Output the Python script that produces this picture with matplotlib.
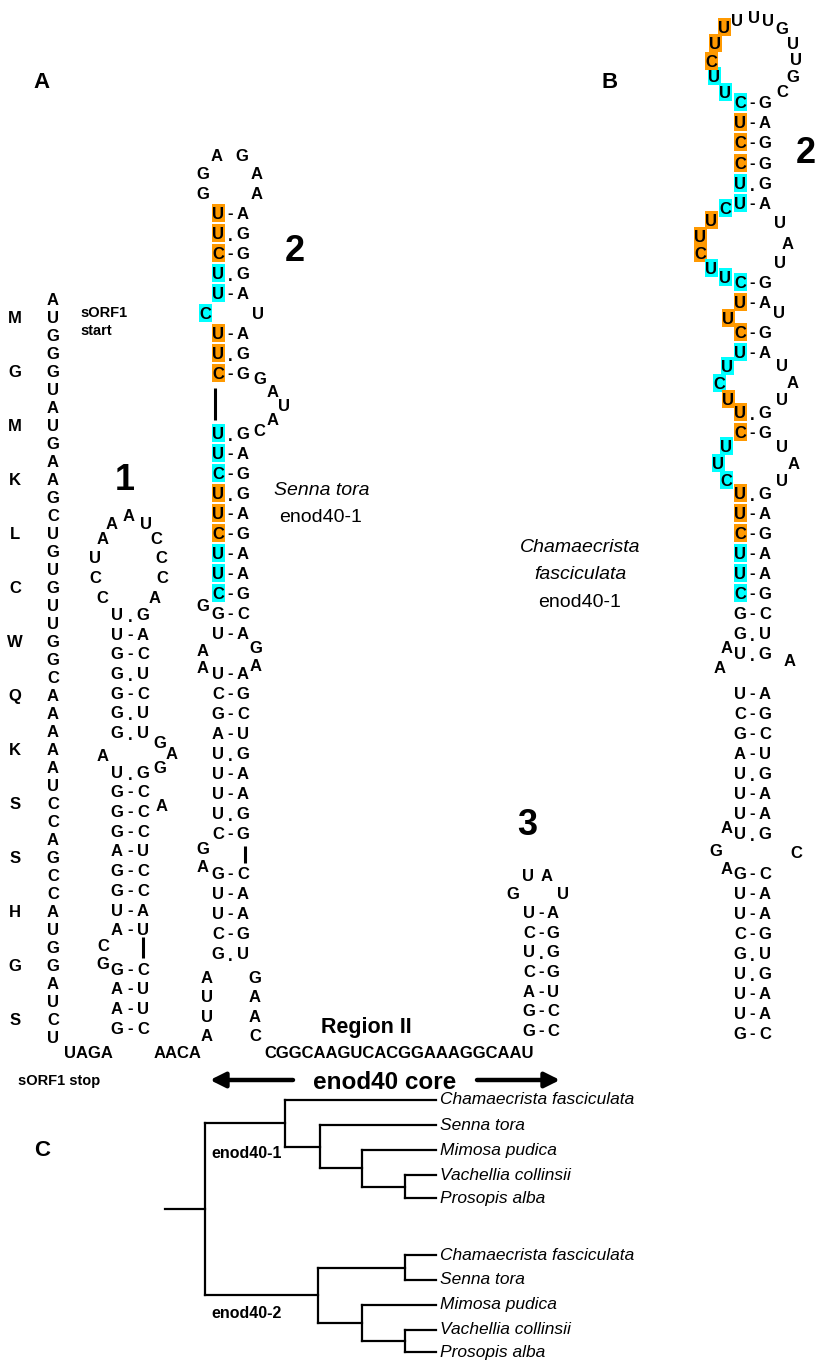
import matplotlib.pyplot as plt
from matplotlib.patches import Rectangle

plt.rcParams['font.family'] = ['Liberation Sans', 'DejaVu Sans']

ORANGE = '#FF9900'
CYAN = '#00FFFF'
FS = 12

# ---- secuencias (datos) ----
sorf_seq = "AUGGGUAUGAAGCUGUGUUGGCAAAAAUCCAGCCAUGGAUCU"
sorf_aa = "MGMKLCWQKSSHGS"
stop_seq = "UAGA"
linker_seq = "AACA"
region2_seq = "CGGCAAGUCACGGAAAGGCAAU"

# tallo 1
stem1_pairs = ["U.G", "U-A", "G-C", "G.U", "G-C", "G.U", "G.U", "",
               "U.G", "G-C", "G-C", "G-C", "A-U", "G-C", "G-C", "U-A", "A-U", "",
               "G-C", "A-U", "A-U", "G-C"]
stem1_loop = "CCUAAAUCCCA"
stem1_extra = "AGAGACG"

# tallo 2 (Senna tora)
stem2_pairs = ["U-A", "U.G", "C-G", "U.G", "U-A", "",
               "U-A", "U.G", "C-G", "", "",
               "U.G", "U-A", "C-G", "U.G", "U-A", "C-G", "U-A", "U-A", "C-G",
               "G-C", "U-A", "",
               "U-A", "C-G", "G-C", "A-U", "U.G", "U-A", "U-A", "U.G", "C-G", "",
               "G-C", "U-A", "U-A", "C-G", "G.U"]
stem2_hl = "ooocc " + "ooo  " + "cccooocccc"[:9] + "nn " + "nnnnnnnnn " + "nnnnn"
stem2_loop = "GGAGAA"
stem2_extra = "CU" + "GAUAC" + "G" + "AAGA" + "GA"
stem2_extra_hl = "cn" + "nnnnn" + "n" + "nnnn" + "nn"
stem2_left = "AUUA"
stem2_right = "GAAC"

# tallo 3
stem3_pairs = ["U-A", "C-G", "U.G", "C-G", "A-U", "G-C", "G-C"]
stem3_loop = "GUAU"

# tallo B (Chamaecrista fasciculata)
stemB_top = ["C-G", "U-A", "C-G", "C-G", "U.G", "U-A"]
stemB_top_hl = "cooocc"
stemB_loop = "UUCUUUUUGUUGC"
stemB_loop_hl = "ccooo" + "n" * 8
stemB_mid = ["C-G", "U-A", "C-G", "U-A", "U.G", "C-G"]
stemB_mid_hl = "coocoo"
stemB_mid_extra = "CUUCUU" + "UAU" + "U" + "U" + "UCU" + "UAU" + "UUC" + "UAU"
stemB_mid_extra_hl = "cooocc" + "nnn" + "o" + "n" + "cco" + "nnn" + "ccc" + "nnn"
stemB_low = ["U.G", "U-A", "C-G", "U-A", "U-A", "C-G", "G-C", "G.U", "U.G", "",
             "U-A", "C-G", "G-C", "A-U", "U.G", "U-A", "U-A", "U.G", "",
             "G-C", "U-A", "U-A", "C-G", "G.U", "U.G", "U-A", "U-A", "G-C"]
stemB_low_hl = "ooocccnnn " + "nnnnnnnn " + "nnnnnnnnn"
stemB_low_extra = "AAAAGCA"

# arbol
leaf_y = [1100, 1125, 1150, 1175, 1198, 1255, 1280, 1305, 1330, 1352]
tree1 = (285, 'Chamaecrista fasciculata',
         (320, 'Senna tora', (362, 'Mimosa pudica', (405, 'Vachellia collinsii', 'Prosopis alba'))))
tree2 = (318, (405, 'Chamaecrista fasciculata', 'Senna tora'),
         (362, 'Mimosa pudica', (405, 'Vachellia collinsii', 'Prosopis alba')))

# ---- figura ----
fig = plt.figure(figsize=(8.19, 13.62), dpi=100)
ax = fig.add_axes([0, 0, 1, 1])
ax.set_xlim(0, 819)
ax.set_ylim(1362, 0)
ax.axis('off')


def txt(x, y, s, fs=FS, weight='bold', style='normal', ha='center'):
    # y = centro de las mayusculas
    off = 0.36 * fs * 100 / 72
    ax.text(x, y + off, s, ha=ha, va='baseline', fontsize=fs,
            fontweight=weight, style=style, zorder=3)


def base(x, y, ch, hl='n'):
    if hl in ('o', 'c'):
        ax.add_patch(Rectangle((x - 6.5, y - 9), 13, 18, lw=0, zorder=1,
                               color=ORANGE if hl == 'o' else CYAN))
    txt(x, y, ch)


def stem(xl, xr, ys, pairs, hl=None):
    if hl is None:
        hl = 'n' * len(pairs)
    for y, p, h in zip(ys, pairs, hl):
        if not p:
            continue
        base(xl, y, p[0], h)
        base(xr, y, p[2])
        txt((xl + xr) / 2, y - (1 if p[1] == '-' else -2), p[1])


def rows(y0, dy, n):
    return [y0 + i * dy for i in range(n)]


def bases(seq, xy, hl=None):
    if hl is None:
        hl = 'n' * len(seq)
    for ch, (x, y), h in zip(seq, xy, hl):
        base(x, y, ch, h)


def bar(x, y1, y2):
    ax.plot([x, x], [y1, y2], color='black', lw=2.2, solid_capstyle='butt')


# columna sORF1
for i, ch in enumerate(sorf_seq):
    base(53, 299 + i * 18, ch)
for k, aa in enumerate(sorf_aa):
    txt(15, 299 + (3 * k + 1) * 18, aa)
txt(80, 312, 'sORF1', fs=10.5, ha='left')
txt(80, 330, 'start', fs=10.5, ha='left')
txt(18, 1080, 'sORF1 stop', fs=10.5, ha='left')

# tallo 1
stem(117, 143, rows(614, 19.7, len(stem1_pairs)), stem1_pairs)
bases(stem1_loop, [(102, 597), (95, 577), (95, 557), (103, 538), (112, 523), (129, 515),
                   (146, 523), (156, 538), (161, 557), (162, 577), (155, 597)])
bases(stem1_extra, [(103, 755), (160, 742), (172, 753), (160, 767), (162, 805),
                    (103, 945), (103, 963)])
bar(143, 937, 958)
txt(125, 477, '1', fs=26)

# tallo 2
stem(218, 243, rows(213, 20, len(stem2_pairs)), stem2_pairs, stem2_hl)
bases(stem2_loop, [(203, 193), (203, 173), (217, 155), (242, 155), (257, 173), (257, 193)])
bases(stem2_extra, [(205, 313), (258, 313), (260, 378), (273, 391), (284, 405), (273, 419),
                    (259, 430), (203, 605), (203, 650), (203, 667), (256, 647), (256, 665),
                    (203, 848), (203, 866)], stem2_extra_hl)
bar(215, 388, 420)
bar(245, 846, 863)
for i, ch in enumerate(stem2_left):
    base(207, 977 + i * 19.3, ch)
for i, ch in enumerate(stem2_right):
    base(255, 977 + i * 19.3, ch)
txt(295, 248, '2', fs=26)
txt(322, 488, 'Senna tora', fs=14, weight='normal', style='italic')
txt(321, 515, 'enod40-1', fs=14, weight='normal')

# tallo 3
stem(529, 553, rows(1030 - 6 * 19.7, 19.7, 7), stem3_pairs)
bases(stem3_loop, [(513, 893), (528, 875), (547, 875), (563, 893)])
txt(527, 822, '3', fs=26)

# linea inferior
txt(88, 1052, stop_seq)
txt(178, 1052, linker_seq)
txt(399, 1052, region2_seq)
txt(366, 1025, 'Region II', fs=15.5)
txt(385, 1080, 'enod40 core', fs=17.5)
ax.annotate('', xy=(210, 1080), xytext=(293, 1080),
            arrowprops=dict(arrowstyle='-|>,head_length=0.9,head_width=0.45', lw=3.2,
                            color='black', shrinkA=0, shrinkB=0))
ax.annotate('', xy=(560, 1080), xytext=(477, 1080),
            arrowprops=dict(arrowstyle='-|>,head_length=0.9,head_width=0.45', lw=3.2,
                            color='black', shrinkA=0, shrinkB=0))

# panel B
stem(740, 765, rows(102, 20.2, 6), stemB_top, stemB_top_hl)
bases(stemB_loop, [(725, 92), (714, 76), (711, 61), (715, 43), (724, 27), (737, 20),
                   (754, 17), (768, 20), (782, 28), (793, 43), (796, 59), (793, 76),
                   (782, 91)], stemB_loop_hl)
stem(740, 765, [282, 302, 332, 352, 412, 432], stemB_mid, stemB_mid_hl)
bases(stemB_mid_extra, [(725, 208), (711, 220), (700, 236), (700, 253), (711, 268), (725, 277),
                        (780, 222), (788, 243), (780, 262),
                        (728, 318), (779, 312),
                        (727, 366), (719, 383), (728, 399),
                        (782, 365), (793, 382), (782, 399),
                        (726, 446), (718, 463), (726, 480),
                        (782, 446), (794, 463), (782, 480)],
      stemB_mid_extra_hl)
stem(740, 765, rows(493, 20, len(stemB_low)), stemB_low, stemB_low_hl)
bases(stemB_low_extra, [(727, 647), (720, 667), (790, 660), (727, 827), (716, 850),
                        (796, 852), (727, 868)])
txt(806, 150, '2', fs=26)
txt(580, 545, 'Chamaecrista', fs=14, weight='normal', style='italic')
txt(580, 572, 'fasciculata', fs=14, weight='normal', style='italic')
txt(580, 600, 'enod40-1', fs=14, weight='normal')

# letras de panel
txt(42, 80, 'A', fs=16)
txt(610, 80, 'B', fs=16)
txt(42, 1148, 'C', fs=16)

# arbol
TIP = 436


def draw(node, ys):
    if isinstance(node, str):
        y = ys.pop(0)
        ax.text(TIP + 4, y, node, ha='left', va='center', fontsize=12.5, style='italic')
        return TIP, y
    x = node[0]
    kids = [draw(k, ys) for k in node[1:]]
    for kx, ky in kids:
        ax.plot([x, kx], [ky, ky], color='black', lw=1.6)
    cy = [k[1] for k in kids]
    ax.plot([x, x], [min(cy), max(cy)], color='black', lw=1.6)
    return x, (min(cy) + max(cy)) / 2


ys = list(leaf_y)
rx, ry = draw((205, tree1, tree2), ys)
ax.plot([165, 205], [ry, ry], color='black', lw=1.6)
txt(247, 1152, 'enod40-1', fs=11.5)
txt(247, 1312, 'enod40-2', fs=11.5)

fig.savefig('out.png', dpi=100)
